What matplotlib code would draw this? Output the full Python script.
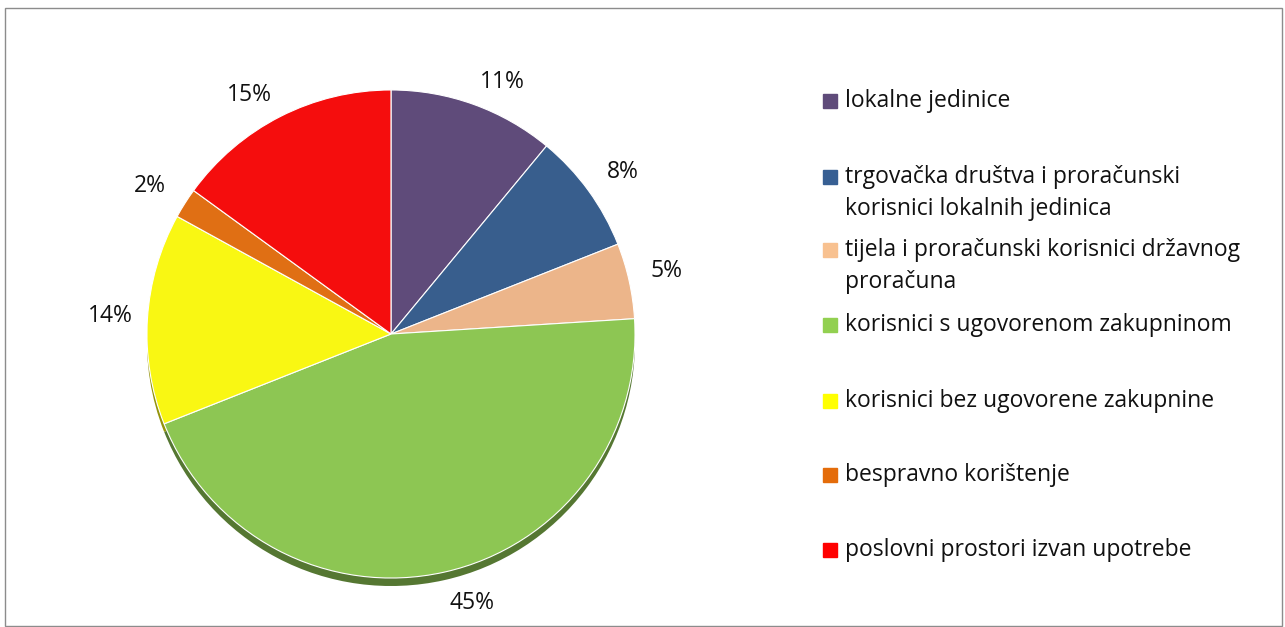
import numpy as np
import matplotlib.pyplot as plt
from matplotlib.patches import Rectangle
import matplotlib.colors as mcolors

# podaci
kategorije = ['lokalne jedinice',
              'trgovačka društva i proračunski\nkorisnici lokalnih jedinica',
              'tijela i proračunski korisnici državnog\nproračuna',
              'korisnici s ugovorenom zakupninom',
              'korisnici bez ugovorene zakupnine',
              'bespravno korištenje',
              'poslovni prostori izvan upotrebe']
udjeli = [11, 8, 5, 45, 14, 2, 15]
boje_pita = ['#5F4B7A', '#385E8D', '#ECB58A', '#8DC653', '#F9F713', '#E06F14', '#F50D0D']
boje_legenda = ['#5F4B7A', '#375F93', '#F8C190', '#92D050', '#FFFF00', '#E46C0A', '#FF0000']
legenda_y = [101, 177, 250, 325, 401, 475, 550]

plt.rcParams['font.family'] = ['Open Sans', 'DejaVu Sans']

fig = plt.figure(figsize=(12.85, 6.27), dpi=100)
ax = fig.add_axes([0, 0, 1, 1])

H = 627
cx, cy, r = 391, H - 334, 244
explode = [0.03, 0.02, 0.02, 0.015, 0.03, 0.03, 0.03]

# "3D" rub - tamnija kopija ispod
tamne = [tuple(c * 0.6 for c in mcolors.to_rgb(b)) for b in boje_pita]
ax.pie(udjeli, colors=tamne, startangle=90, counterclock=False,
       center=(cx, cy - 8), radius=r, explode=explode,
       wedgeprops=dict(linewidth=0), frame=True)

wedges, _ = ax.pie(udjeli, colors=boje_pita, startangle=90, counterclock=False,
                   center=(cx, cy), radius=r, explode=explode,
                   wedgeprops=dict(linewidth=0.8, edgecolor='white'), frame=True)

# oznake postotaka - izvan kriške, kao u Excelu
ukupno = sum(udjeli)
for w, v in zip(wedges, udjeli):
    kut = np.deg2rad((w.theta1 + w.theta2) / 2)
    c, s = np.cos(kut), np.sin(kut)
    px = w.center[0] + r * 1.05 * c + 25 * np.clip(c * 5, -1, 1)
    py = w.center[1] + r * 1.05 * s + 11 * np.clip(s * 3, -1, 1) - (8 if s < 0 else 0)
    ax.text(px, py, '%d%%' % round(100 * v / ukupno), ha='center', va='center',
            fontsize=16.5, color='#111111')

ax.set_xlim(0, 1285)
ax.set_ylim(0, 627)
ax.set_aspect('equal')
ax.axis('off')

# legenda
for i, txt in enumerate(kategorije):
    y = H - legenda_y[i]
    ax.add_patch(Rectangle((823, y - 7), 14, 14, color=boje_legenda[i]))
    ax.text(845, y + 12, txt, fontsize=16.5, va='top', ha='left',
            linespacing=1.45, color='#111111')

# okvir
fig.add_artist(Rectangle((0.004, 0.002), 0.994, 0.985, transform=fig.transFigure,
                         fill=False, edgecolor='#8C8C8C', linewidth=1))

fig.savefig('out.png', dpi=100)
